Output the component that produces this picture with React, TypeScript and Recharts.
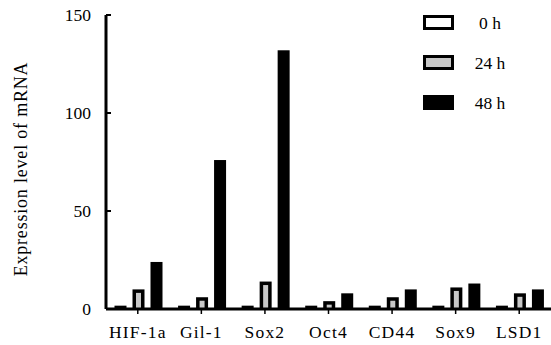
import React from 'react';
import { BarChart, Bar, XAxis, YAxis, Legend } from 'recharts';

const categories = ['HIF-1a', 'Gil-1', 'Sox2', 'Oct4', 'CD44', 'Sox9', 'LSD1'];
const h0 = [1.7, 1.7, 1.7, 1.7, 1.7, 1.7, 1.7];
const h24 = [10, 6, 14, 4, 6, 11, 8];
const h48 = [24, 76, 132, 8, 10, 13, 10];
const seriesNames = ['0 h', '24 h', '48 h'];
const seriesFills = ['#ffffff', '#c8c8c8', '#000000'];
const yTicks = [0, 50, 100, 150];

const data = categories.map((c, i) => ({ name: c, s0: h0[i], s24: h24[i], s48: h48[i] }));

const FONT = 'Times New Roman';

const BorderedBar = (props: any) => {
  const { x, y, width, height, fill } = props;
  const b = 3.5;
  if (!width || !height) return null;
  return (
    <g>
      <rect x={x} y={y} width={width} height={height} fill="#000" />
      {width > 2 * b && height > b ? (
        <rect x={x + b} y={y + b} width={width - 2 * b} height={height - b} fill={fill} />
      ) : null}
    </g>
  );
};

const YTick = (props: any) => {
  const { x, y, payload } = props;
  const axisX = x + 15;
  return (
    <g>
      <text x={x} y={y} dy="0.35em" textAnchor="end" fontFamily={FONT} fontSize={17.5}>
        {payload.value}
      </text>
      <line x1={axisX} x2={axisX + 5} y1={y} y2={y} stroke="#000" strokeWidth={2} />
    </g>
  );
};

const XTick = (props: any) => {
  const { x, y, payload } = props;
  return (
    <text x={x} y={y} dy="0.71em" textAnchor="middle" fontFamily={FONT} fontSize={17.5} style={{ letterSpacing: '1.2px' }}>
      {payload.value}
    </text>
  );
};

const LegendContent = (props: any) => {
  const payload = props.payload || [];
  return (
    <div style={{ fontFamily: '"Times New Roman", "Liberation Serif", serif', fontSize: 17.5, color: '#000' }}>
      {payload.map((p: any, i: number) => (
        <div key={i} style={{ position: 'relative', height: 40 }}>
          <div
            style={{
              position: 'absolute',
              left: 0,
              top: 0,
              width: 31,
              height: 15,
              boxSizing: 'border-box',
              border: '3.5px solid #000',
              background: p.color,
            }}
          />
          <div
            style={{
              position: 'absolute',
              left: 47,
              width: 40,
              top: -2,
              textAlign: 'center',
              lineHeight: '20px',
              whiteSpace: 'nowrap',
            }}
          >
            {p.value}
          </div>
        </div>
      ))}
    </div>
  );
};

const YLabel = (props: any) => {
  const vb = props.viewBox || { x: 0, y: 0, width: 0, height: 0 };
  const cx = vb.x + 26.5;
  const cy = vb.y + vb.height / 2 + 7;
  return (
    <text
      x={cx}
      y={cy}
      transform={`rotate(-90 ${cx} ${cy})`}
      textAnchor="middle"
      fontFamily={FONT}
      fontSize={18}
      style={{ letterSpacing: '0.8px' }}
    >
      Expression level of mRNA
    </text>
  );
};

export default function App() {
  return (
    <div style={{ position: 'absolute', left: 0, top: 0, width: 551, height: 345, background: '#fff' }}>
      <BarChart
        width={551}
        height={345}
        data={data}
        margin={{ top: 15, right: 0, bottom: 0, left: 0 }}
        barCategoryGap={8.5}
        barGap={6}
      >
        <XAxis
          dataKey="name"
          height={36}
          axisLine={{ stroke: '#000', strokeWidth: 3 }}
          tickLine={{ stroke: '#000', strokeWidth: 1.5 }}
          tickSize={5}
          tickMargin={12}
          tick={<XTick />}
          interval={0}
        />
        <YAxis
          width={106}
          domain={[0, 150]}
          ticks={yTicks}
          axisLine={{ stroke: '#000', strokeWidth: 3 }}
          tickLine={false}
          tickSize={0}
          tickMargin={15}
          tick={<YTick />}
          label={<YLabel />}
          allowDataOverflow
        />
        <Legend
          layout="vertical"
          align="center"
          verticalAlign="middle"
          content={<LegendContent />}
          wrapperStyle={{ position: 'absolute', left: 423, top: 15, width: 110, height: 120 }}
        />
        <Bar dataKey="s0" name={seriesNames[0]} fill={seriesFills[0]} shape={<BorderedBar />} isAnimationActive={false} />
        <Bar dataKey="s24" name={seriesNames[1]} fill={seriesFills[1]} shape={<BorderedBar />} isAnimationActive={false} />
        <Bar dataKey="s48" name={seriesNames[2]} fill={seriesFills[2]} shape={<BorderedBar />} isAnimationActive={false} />
      </BarChart>
    </div>
  );
}
